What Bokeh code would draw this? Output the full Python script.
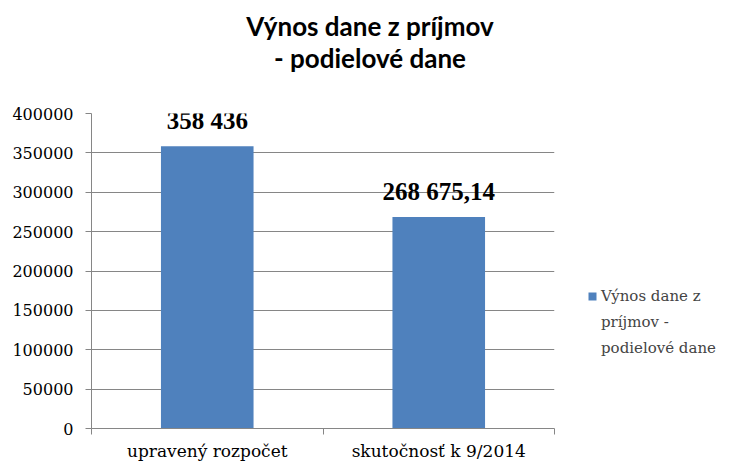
from bokeh.plotting import figure
from bokeh.models import (ColumnDataSource, Range1d, FixedTicker, LabelSet,
                          Legend, LegendItem, Div)
from bokeh.layouts import column
from bokeh.embed import file_html
from bokeh.resources import INLINE

categories = ["upravený rozpočet", "skutočnosť k 9/2014"]
values = [358436, 268675.14]
value_labels = ["358 436", "268 675,14"]
series_lines = ["Výnos dane z", "príjmov -", "podielové dane"]
title_lines = ["Výnos dane z príjmov", "- podielové dane"]
y_ticks = [0, 50000, 100000, 150000, 200000, 250000, 300000, 350000, 400000]

xs = [i + 0.5 for i in range(len(categories))]
src = ColumnDataSource(dict(x=xs, y=values, lab=value_labels))

GRAY = "#868686"
SERIF = "DejaVu Serif"
TITLE_H = 80
p = figure(frame_width=463, frame_height=315,
           x_range=Range1d(0, len(categories)), y_range=Range1d(0, 400000),
           output_backend="svg", toolbar_location=None,
           min_border_left=91, min_border_top=113 - TITLE_H,
           min_border_right=179, min_border_bottom=34)
p.outline_line_color = None
p.background_fill_color = "white"

r = p.vbar(x="x", top="y", width=0.4, source=src, fill_color="#4F81BD",
           line_color=None)
# invisible stand-in so that continuation lines of the legend label get no swatch
blank = p.vbar(x=[], top=[], width=0.4, fill_alpha=0, line_alpha=0)

# axes
p.xaxis.ticker = FixedTicker(ticks=xs, minor_ticks=list(range(len(categories) + 1)))
p.xaxis.major_label_overrides = {x: c for x, c in zip(xs, categories)}
p.xaxis.major_tick_line_color = None
p.xaxis.minor_tick_line_color = GRAY
p.xaxis.minor_tick_in = 0
p.xaxis.minor_tick_out = 6
p.xaxis.axis_line_color = GRAY
p.xaxis.major_label_standoff = 6
p.xaxis.major_label_text_font = SERIF
p.xaxis.major_label_text_font_size = "17px"
p.xaxis.major_label_text_color = "#000000"

p.yaxis.ticker = FixedTicker(ticks=y_ticks)
p.yaxis.major_label_overrides = {t: str(t) for t in y_ticks}
p.yaxis.axis_line_color = GRAY
p.yaxis.major_tick_line_color = GRAY
p.yaxis.major_tick_in = 0
p.yaxis.major_tick_out = 6
p.yaxis.minor_tick_line_color = None
p.yaxis.major_label_standoff = 12
p.yaxis.major_label_text_font = SERIF
p.yaxis.major_label_text_font_size = "16px"
p.yaxis.major_label_text_color = "#000000"

p.xgrid.grid_line_color = None
p.ygrid.ticker = FixedTicker(ticks=y_ticks)
p.ygrid.grid_line_color = GRAY
p.ygrid.grid_line_width = 1

# value labels
labels = LabelSet(x="x", y="y", text="lab", source=src, y_offset=17,
                  text_align="center", text_baseline="alphabetic",
                  text_font="Liberation Serif", text_font_style="bold",
                  text_font_size="25px", text_color="#000000")
p.add_layout(labels)

items = [LegendItem(label=series_lines[0], renderers=[r])]
items += [LegendItem(label=s, renderers=[blank]) for s in series_lines[1:]]
legend = Legend(items=items,
                location=(33, 71), border_line_color=None,
                background_fill_alpha=0, margin=0, padding=0, spacing=8,
                glyph_width=10, glyph_height=10, label_standoff=4,
                label_text_font=SERIF, label_text_font_size="15px")
p.add_layout(legend, "right")

title = Div(text="<br>".join(title_lines), width=726, height=TITLE_H,
            margin=(0, 0, 0, 7),
            styles={"text-align": "center", "font-family": "Lato",
                    "font-weight": "bold", "font-size": "26px",
                    "line-height": "32px", "color": "#000000",
                    "padding-top": "10px", "box-sizing": "border-box"})

layout = column(title, p, spacing=0)
open("out.html", "w").write(file_html(layout, INLINE))
